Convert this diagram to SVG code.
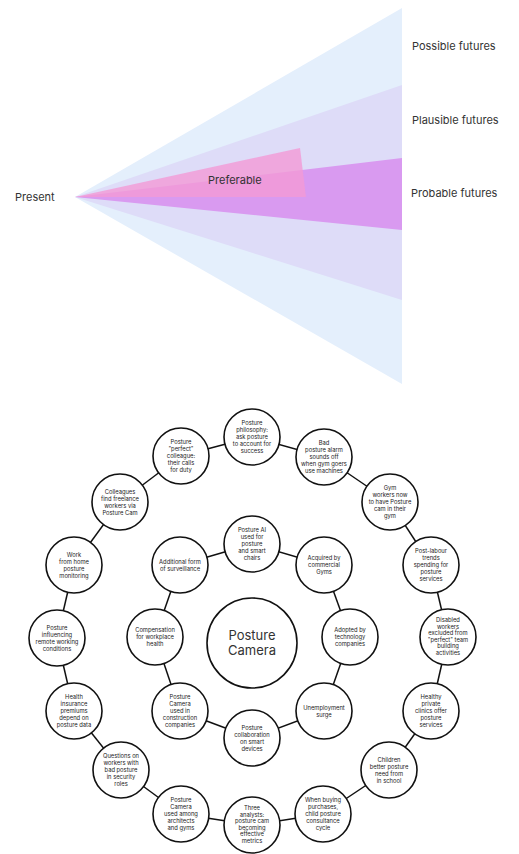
<svg xmlns="http://www.w3.org/2000/svg" width="519" height="854" viewBox="0 0 519 854">
<style>
.lbl{font-family:Inter,"Liberation Sans",sans-serif;font-size:11px;fill:#333}
.n circle{fill:#fff;stroke:#111;stroke-width:1.6}
.t{font-family:Inter,"Liberation Sans",sans-serif;font-size:5.8px;fill:#222;text-anchor:middle}
.big{font-family:Inter,"Liberation Sans",sans-serif;font-size:13px;fill:#333;text-anchor:middle}
#connectors line{stroke:#111;stroke-width:1.5}
</style>
<rect width="519" height="854" fill="#fff"/>
<g id="cone">
<polygon points="75,197 402,8 402,384" fill="#e4effc"/>
<polygon points="75,197 402,85 402,300" fill="#dedcf8"/>
<polygon points="75,197 402,158 402,230" fill="#d99af0"/>
<polygon points="75,197 300,148 306,197" fill="#f29ad6" fill-opacity="0.8"/>
</g>
<text class="lbl" x="15" y="201">Present</text>
<text class="lbl" x="208" y="184">Preferable</text>
<text class="lbl" x="412" y="50">Possible futures</text>
<text class="lbl" x="412" y="124">Plausible futures</text>
<text class="lbl" x="411" y="197">Probable futures</text>

<g id="connectors">
<line x1="252" y1="437" x2="324" y2="457"/>
<line x1="324" y1="457" x2="390" y2="502"/>
<line x1="390" y1="502" x2="431" y2="565"/>
<line x1="431" y1="565" x2="448" y2="637"/>
<line x1="448" y1="637" x2="431" y2="711"/>
<line x1="431" y1="711" x2="389" y2="770"/>
<line x1="389" y1="770" x2="323" y2="814"/>
<line x1="323" y1="814" x2="252" y2="825"/>
<line x1="252" y1="825" x2="181" y2="814"/>
<line x1="181" y1="814" x2="121" y2="770"/>
<line x1="121" y1="770" x2="74" y2="711"/>
<line x1="74" y1="711" x2="57" y2="638"/>
<line x1="57" y1="638" x2="74" y2="565"/>
<line x1="74" y1="565" x2="120" y2="502"/>
<line x1="120" y1="502" x2="181" y2="456"/>
<line x1="181" y1="456" x2="252" y2="437"/>
<line x1="252" y1="544" x2="324" y2="565"/>
<line x1="324" y1="565" x2="350" y2="637"/>
<line x1="350" y1="637" x2="324" y2="711"/>
<line x1="324" y1="711" x2="252" y2="738"/>
<line x1="252" y1="738" x2="180" y2="711"/>
<line x1="180" y1="711" x2="155" y2="637"/>
<line x1="155" y1="637" x2="180" y2="565"/>
<line x1="180" y1="565" x2="252" y2="544"/>
</g>

<g id="center" class="n"><circle cx="252" cy="643" r="45"/><text class="big"><tspan x="252" y="640">Posture</tspan><tspan x="252" y="655">Camera</tspan></text></g>

<g id="o1" class="n"><circle cx="252" cy="437" r="28"/><text class="t"><tspan x="252" y="425">Posture</tspan><tspan x="252" y="432">philosophy:</tspan><tspan x="252" y="439">ask posture</tspan><tspan x="252" y="446">to account for</tspan><tspan x="252" y="453">success</tspan></text></g>
<g id="o2" class="n"><circle cx="324" cy="457" r="28"/><text class="t"><tspan x="324" y="445">Bad</tspan><tspan x="324" y="452">posture alarm</tspan><tspan x="324" y="459">sounds off</tspan><tspan x="324" y="466">when gym goers</tspan><tspan x="324" y="473">use machines</tspan></text></g>
<g id="o3" class="n"><circle cx="390" cy="502" r="28"/><text class="t"><tspan x="390" y="490">Gym</tspan><tspan x="390" y="497">workers now</tspan><tspan x="390" y="504">to have Posture</tspan><tspan x="390" y="511">cam in their</tspan><tspan x="390" y="518">gym</tspan></text></g>
<g id="o4" class="n"><circle cx="431" cy="565" r="28"/><text class="t"><tspan x="431" y="553">Post-labour</tspan><tspan x="431" y="560">trends</tspan><tspan x="431" y="567">spending for</tspan><tspan x="431" y="574">posture</tspan><tspan x="431" y="581">services</tspan></text></g>
<g id="o5" class="n"><circle cx="448" cy="637" r="28"/><text class="t"><tspan x="448" y="622">Disabled</tspan><tspan x="448" y="628.5">workers</tspan><tspan x="448" y="635">excluded from</tspan><tspan x="448" y="641.5">"perfect" team</tspan><tspan x="448" y="648">building</tspan><tspan x="448" y="654.5">activities</tspan></text></g>
<g id="o6" class="n"><circle cx="431" cy="711" r="28"/><text class="t"><tspan x="431" y="699">Healthy</tspan><tspan x="431" y="706">private</tspan><tspan x="431" y="713">clinics offer</tspan><tspan x="431" y="720">posture</tspan><tspan x="431" y="727">services</tspan></text></g>
<g id="o7" class="n"><circle cx="389" cy="770" r="28"/><text class="t"><tspan x="389" y="761.5">Children</tspan><tspan x="389" y="768.5">better posture</tspan><tspan x="389" y="775.5">need from</tspan><tspan x="389" y="782.5">in school</tspan></text></g>
<g id="o8" class="n"><circle cx="323" cy="814" r="28"/><text class="t"><tspan x="323" y="802">When buying</tspan><tspan x="323" y="809">purchases,</tspan><tspan x="323" y="816">child posture</tspan><tspan x="323" y="823">consultance</tspan><tspan x="323" y="830">cycle</tspan></text></g>
<g id="o9" class="n"><circle cx="252" cy="825" r="28"/><text class="t"><tspan x="252" y="810">Three</tspan><tspan x="252" y="816.5">analysts:</tspan><tspan x="252" y="823">posture cam</tspan><tspan x="252" y="829.5">becoming</tspan><tspan x="252" y="836">effective</tspan><tspan x="252" y="842.5">metrics</tspan></text></g>
<g id="o10" class="n"><circle cx="181" cy="814" r="28"/><text class="t"><tspan x="181" y="802">Posture</tspan><tspan x="181" y="809">Camera</tspan><tspan x="181" y="816">used among</tspan><tspan x="181" y="823">architects</tspan><tspan x="181" y="830">and gyms</tspan></text></g>
<g id="o11" class="n"><circle cx="121" cy="770" r="28"/><text class="t"><tspan x="121" y="758">Questions on</tspan><tspan x="121" y="765">workers with</tspan><tspan x="121" y="772">bad posture</tspan><tspan x="121" y="779">in security</tspan><tspan x="121" y="786">roles</tspan></text></g>
<g id="o12" class="n"><circle cx="74" cy="711" r="28"/><text class="t"><tspan x="74" y="699">Health</tspan><tspan x="74" y="706">insurance</tspan><tspan x="74" y="713">premiums</tspan><tspan x="74" y="720">depend on</tspan><tspan x="74" y="727">posture data</tspan></text></g>
<g id="o13" class="n"><circle cx="57" cy="638" r="28"/><text class="t"><tspan x="57" y="629.5">Posture</tspan><tspan x="57" y="636.5">influencing</tspan><tspan x="57" y="643.5">remote working</tspan><tspan x="57" y="650.5">conditions</tspan></text></g>
<g id="o14" class="n"><circle cx="74" cy="565" r="28"/><text class="t"><tspan x="74" y="556.5">Work</tspan><tspan x="74" y="563.5">from home</tspan><tspan x="74" y="570.5">posture</tspan><tspan x="74" y="577.5">monitoring</tspan></text></g>
<g id="o15" class="n"><circle cx="120" cy="502" r="28"/><text class="t"><tspan x="120" y="493.5">Colleagues</tspan><tspan x="120" y="500.5">find freelance</tspan><tspan x="120" y="507.5">workers via</tspan><tspan x="120" y="514.5">Posture Cam</tspan></text></g>
<g id="o16" class="n"><circle cx="181" cy="456" r="28"/><text class="t"><tspan x="181" y="444">Posture</tspan><tspan x="181" y="451">"perfect"</tspan><tspan x="181" y="458">colleague:</tspan><tspan x="181" y="465">their calls</tspan><tspan x="181" y="472">for duty</tspan></text></g>

<g id="i1" class="n"><circle cx="252" cy="544" r="28"/><text class="t"><tspan x="252" y="532">Posture AI</tspan><tspan x="252" y="539">used for</tspan><tspan x="252" y="546">posture</tspan><tspan x="252" y="553">and smart</tspan><tspan x="252" y="560">chairs</tspan></text></g>
<g id="i2" class="n"><circle cx="324" cy="565" r="28"/><text class="t"><tspan x="324" y="560">Acquired by</tspan><tspan x="324" y="567">commercial</tspan><tspan x="324" y="574">Gyms</tspan></text></g>
<g id="i3" class="n"><circle cx="350" cy="637" r="28"/><text class="t"><tspan x="350" y="632">Adopted by</tspan><tspan x="350" y="639">technology</tspan><tspan x="350" y="646">companies</tspan></text></g>
<g id="i4" class="n"><circle cx="324" cy="711" r="28"/><text class="t"><tspan x="324" y="709.5">Unemployment</tspan><tspan x="324" y="716.5">surge</tspan></text></g>
<g id="i5" class="n"><circle cx="252" cy="738" r="28"/><text class="t"><tspan x="252" y="729.5">Posture</tspan><tspan x="252" y="736.5">collaboration</tspan><tspan x="252" y="743.5">on smart</tspan><tspan x="252" y="750.5">devices</tspan></text></g>
<g id="i6" class="n"><circle cx="180" cy="711" r="28"/><text class="t"><tspan x="180" y="699">Posture</tspan><tspan x="180" y="706">Camera</tspan><tspan x="180" y="713">used in</tspan><tspan x="180" y="720">construction</tspan><tspan x="180" y="727">companies</tspan></text></g>
<g id="i7" class="n"><circle cx="155" cy="637" r="28"/><text class="t"><tspan x="155" y="632">Compensation</tspan><tspan x="155" y="639">for workplace</tspan><tspan x="155" y="646">health</tspan></text></g>
<g id="i8" class="n"><circle cx="180" cy="565" r="28"/><text class="t"><tspan x="180" y="563.5">Additional form</tspan><tspan x="180" y="570.5">of surveillance</tspan></text></g>
</svg>
